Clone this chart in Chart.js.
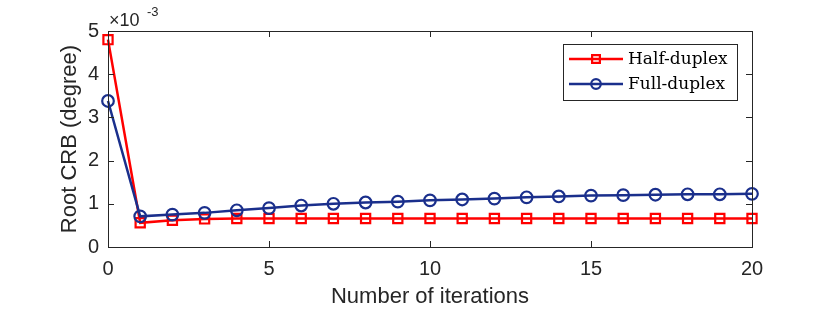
<!DOCTYPE html>
<html>
<head>
<meta charset="utf-8">
<script src="https://cdn.jsdelivr.net/npm/chart.js@4.4.0/dist/chart.umd.min.js"></script>
<style>
  html, body { margin: 0; padding: 0; background: #fff; }
</style>
</head>
<body>
<canvas id="crb" width="830" height="310"></canvas>
<script>
// values in units of 1e-3 degree
var iterations = [0,1,2,3,4,5,6,7,8,9,10,11,12,13,14,15,16,17,18,19,20];
var halfDuplex = [4.80,0.56,0.62,0.65,0.66,0.66,0.66,0.66,0.66,0.66,0.66,0.66,0.66,0.66,0.66,0.66,0.66,0.66,0.66,0.66,0.66];
var fullDuplex = [3.38,0.71,0.75,0.79,0.85,0.90,0.96,1.00,1.03,1.05,1.08,1.10,1.12,1.15,1.17,1.19,1.20,1.21,1.22,1.22,1.23];
var xTicks = [0,5,10,15,20];
var yTicks = [0,1,2,3,4,5];

var axisColor = '#262626';

function toPoints(vals) {
	var pts = [];
	for (var i in vals) pts.push({x: iterations[i], y: vals[i]});
	return pts;
}

// MATLAB style box with inward ticks, legend and exponent label
var matlabBox = {
	id: 'matlabBox',
	afterDraw: function(chart) {
		var ctx = chart.ctx;
		var a = chart.chartArea;
		var xs = chart.scales.x, ys = chart.scales.y;
		ctx.save();
		ctx.strokeStyle = axisColor;
		ctx.lineWidth = 1;
		ctx.strokeRect(a.left + 0.5, a.top + 0.5, a.right - a.left, a.bottom - a.top);
		ctx.beginPath();
		xTicks.forEach(function(v) {
			var px = Math.round(xs.getPixelForValue(v)) + 0.5;
			ctx.moveTo(px, a.bottom); ctx.lineTo(px, a.bottom - 6);
			ctx.moveTo(px, a.top); ctx.lineTo(px, a.top + 6);
		});
		yTicks.forEach(function(v) {
			var py = Math.round(ys.getPixelForValue(v)) + 0.5;
			ctx.moveTo(a.left, py); ctx.lineTo(a.left + 6, py);
			ctx.moveTo(a.right, py); ctx.lineTo(a.right - 6, py);
		});
		ctx.stroke();

		// exponent
		ctx.fillStyle = axisColor;
		ctx.textBaseline = 'alphabetic';
		ctx.textAlign = 'left';
		ctx.font = '18px "Liberation Sans", Arial, sans-serif';
		ctx.fillText('\u00d710', a.left + 1, 26);
		ctx.font = '13px "Liberation Sans", Arial, sans-serif';
		ctx.fillText('-3', a.left + 39, 16);

		// legend
		var lx = 563, ly = 44, lw = 174, lh = 56;
		ctx.fillStyle = '#fff';
		ctx.fillRect(lx, ly, lw, lh);
		ctx.strokeStyle = axisColor;
		ctx.strokeRect(lx + 0.5, ly + 0.5, lw, lh);
		var rows = [59, 84];
		chart.data.datasets.forEach(function(ds, i) {
			var y = rows[i];
			ctx.strokeStyle = ds.borderColor;
			ctx.lineWidth = ds.borderWidth;
			ctx.beginPath();
			ctx.moveTo(569, y); ctx.lineTo(623, y);
			ctx.stroke();
			ctx.fillStyle = 'rgba(0,0,0,0)';
			ctx.strokeStyle = ds.pointBorderColor;
			ctx.lineWidth = ds.pointBorderWidth;
			Chart.helpers.drawPoint(ctx, {pointStyle: ds.pointStyle, radius: ds.pointRadius - 1, borderWidth: ds.pointBorderWidth}, 596, y);
			ctx.fillStyle = '#000';
			ctx.font = '17px "DejaVu Serif", "Liberation Serif", serif';
			ctx.textBaseline = 'middle';
			ctx.fillText(ds.label, 628, y + 1);
		});
		ctx.restore();
	}
};

var ctx = document.getElementById('crb');

var chart = new Chart(ctx, {
	type: 'line',
	data: {
		datasets: [
			{
				label: 'Half-duplex',
				data: toPoints(halfDuplex),
				borderColor: '#ff0000',
				backgroundColor: 'rgba(0,0,0,0)',
				borderWidth: 2.5,
				pointStyle: 'rect',
				pointRadius: 6.5,
				pointBorderWidth: 2.2,
				pointBackgroundColor: 'rgba(0,0,0,0)',
				pointBorderColor: '#ff0000',
				clip: false,
				order: 1
			},
			{
				label: 'Full-duplex',
				data: toPoints(fullDuplex),
				borderColor: '#1a2f8c',
				backgroundColor: 'rgba(0,0,0,0)',
				borderWidth: 2.5,
				pointStyle: 'circle',
				pointRadius: 5.8,
				pointBorderWidth: 2.2,
				pointBackgroundColor: 'rgba(0,0,0,0)',
				pointBorderColor: '#1a2f8c',
				clip: false,
				order: 0
			}
		]
	},
	options: {
		responsive: false,
		animation: false,
		devicePixelRatio: 1,
		layout: { padding: { top: 31, right: 78, bottom: 0, left: 0 } },
		plugins: { legend: { display: false }, tooltip: { enabled: false } },
		elements: { line: { tension: 0 } },
		scales: {
			x: {
				type: 'linear',
				min: 0, max: 20,
				afterFit: function(s) { s.height = 63; },
				afterBuildTicks: function(s) { s.ticks = xTicks.map(function(v) { return {value: v}; }); },
				grid: { display: false, drawTicks: false },
				border: { display: false },
				ticks: { color: axisColor, padding: 10, font: { family: '"Liberation Sans", Arial, sans-serif', size: 20 } },
				title: { display: true, text: 'Number of iterations', color: axisColor, padding: 0,
					font: { family: '"Liberation Sans", Arial, sans-serif', size: 22 } }
			},
			y: {
				type: 'linear',
				min: 0, max: 5,
				afterFit: function(s) { s.width = 108; },
				afterBuildTicks: function(s) { s.ticks = yTicks.map(function(v) { return {value: v}; }); },
				grid: { display: false, drawTicks: false },
				border: { display: false },
				ticks: { color: axisColor, padding: 9, font: { family: '"Liberation Sans", Arial, sans-serif', size: 20 } },
				title: { display: true, text: 'Root CRB (degree)', color: axisColor, padding: { top: 57, bottom: 0 },
					font: { family: '"Liberation Sans", Arial, sans-serif', size: 22 } }
			}
		}
	},
	plugins: [matlabBox]
});
</script>
</body>
</html>
